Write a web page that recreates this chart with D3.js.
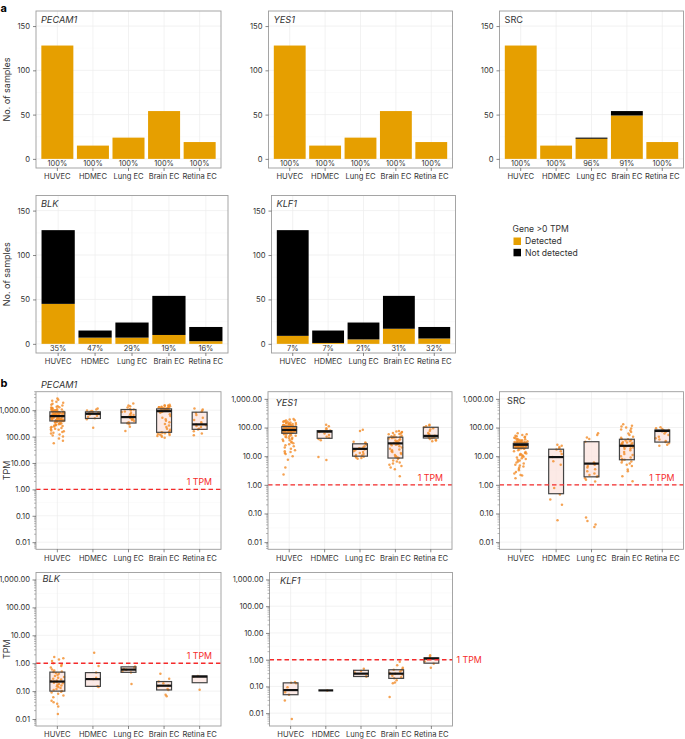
<!DOCTYPE html>
<html><head><meta charset="utf-8">
<script src="https://cdn.jsdelivr.net/npm/d3@7"></script>
<style>
body{margin:0;background:#fff}
text{font-family:Inter,"Noto Sans",sans-serif;fill:#333}
</style>
</head><body>
<svg id="c" width="685" height="739"></svg>
<script>
// ---------- DATA ----------
const cellTypes = ["HUVEC","HDMEC","Lung EC","Brain EC","Retina EC"];
const genes = ["PECAM1","YES1","SRC","BLK","KLF1"];
const sampleTotals = [128,15,24,54,19];
// samples with gene > 0 TPM (Detected)
const detectedPECAM1 = [128,15,24,54,19];
const detectedYES1   = [128,15,24,54,19];
const detectedSRC    = [128,15,23,49,19];
const detectedBLK    = [45,7,7,10,3];
const detectedKLF1   = [9,1,5,17,6];
const countTicks = [0,50,100,150];
const tpmTicks = [0.01,0.1,1,10,100,1000];
const thresholdTPM = 1;

// box stats [Q1, median, Q3] per cell type
const boxPECAM1 = [[390,596,866],[487,730,866],[326,547,1060],[145,917,1120],[188,290,841]];
const boxYES1   = [[63,82,108],[42,72,78],[10,18,27],[8.6,28,46],[43,51,102]];
const boxSRC    = [[19,25,28],[0.49,9.3,17.5],[1.9,5.5,32],[7.5,23,39],[31,76,82]];
const boxBLK    = [[0.10,0.22,0.48],[0.148,0.27,0.46],[0.47,0.59,0.74],[0.11,0.156,0.22],[0.20,0.33,0.35]];
const boxKLF1   = [[0.049,0.073,0.136],[0.071,0.071,0.071],[0.235,0.30,0.40],[0.20,0.30,0.42],[0.74,1.1,1.17]];

// TPM values per sample (detected samples), per cell type
const tpmPECAM1 = [
 [2750,2500,2300,2100,1900,1750,1600,1500,1400,1350,1300,1250,1200,1150,1100,1080,1050,1020,1000,990,980,960,950,940,930,920,910,900,890,880,875,870,
  860,850,840,830,820,810,800,790,780,770,760,750,740,730,720,710,700,690,680,670,660,650,645,640,635,630,625,620,615,610,605,600,
  590,580,570,560,550,545,540,530,520,510,500,495,490,485,480,470,460,455,450,445,440,435,430,425,420,415,410,405,400,398,395,392,
  385,370,360,350,340,330,320,310,300,290,280,270,260,250,240,230,220,210,200,190,180,170,160,150,140,130,120,110,100,85,70,56],
 [1150,1050,980,940,900,870,820,760,720,680,620,560,500,450,218],
 [1780,1500,1400,1250,1100,1050,980,900,850,780,700,650,600,560,520,480,450,420,390,350,320,290,236,163],
 [1600,1550,1500,1450,1400,1380,1350,1320,1300,1280,1250,1220,1200,1180,1150,1130,1120,1100,1080,1060,1040,1020,1000,980,960,940,920,900,870,
  800,700,600,520,450,400,350,300,260,230,200,180,160,150,145,140,135,130,125,120,115,110,105,98,91],
 [1160,1050,950,870,780,650,520,420,350,300,285,270,250,230,200,185,160,130,112]
];
const tpmYES1 = [
 [198,190,180,175,170,165,160,155,150,148,145,140,138,135,132,130,128,125,123,121,120,118,117,116,115,114,113,112,111,110,109,108,
  107,106,105,104,103,102,101,100,99,98,97,96,95,94,93,92,91,90,89,88,88,87,87,86,86,85,85,84,84,83,83,82,
  81,80,80,79,78,78,77,76,76,75,74,74,73,72,72,71,70,70,69,68,68,67,67,66,66,65,65,64,64,64,63,63,
  62,60,58,56,54,52,50,48,46,44,42,40,38,36,34,32,30,28,26,24,22,20,18,16,15,14,13,12,10,7.5,4,2.3],
 [124,110,95,85,78,74,70,62,55,48,44,40,36,9.4,7.4],
 [83,76,32,30,28,27,25,22,20,19,18,17,16,15,14,13,12,11,10.5,10,9.5,9,8.7,8.2],
 [76,72,70,68,65,62,60,58,55,52,50,48,47,46,45,43,41,39,37,35,33,31,30,29,28,28,27,26,25,24,22,20,18,17,16,15,14,13,12,11,
  10,9.5,9,8.6,8,7,6.5,6,5.5,5,4.5,4,3.5,2],
 [124,118,110,102,95,85,75,65,58,52,50,48,46,44,42,40,37,35,33]
];
const tpmSRC = [
 [63,58,55,52,50,48,46,44,42,40,39,38,37,36,35,34,33.5,33,32.5,32,31.5,31,30.5,30,29.8,29.5,29.2,29,28.8,28.5,28.2,28,
  27.9,27.8,27.7,27.6,27.5,27.4,27.3,27.2,27.1,27,26.9,26.8,26.7,26.6,26.5,26.4,26.3,26.2,26.1,26,25.9,25.8,25.7,25.6,25.5,25.4,25.3,25.2,25.15,25.1,25.05,25,
  24.8,24.5,24.2,24,23.7,23.4,23.1,22.8,22.5,22.2,22,21.8,21.6,21.4,21.2,21,20.8,20.6,20.4,20.2,20,19.9,19.8,19.7,19.6,19.5,19.4,19.3,19.2,19.1,19.05,19,
  18,17,16,15,14,13,12.5,12,11.5,11,10.5,10,9.5,9,8.5,8,7.5,7,6.5,6,5.5,5,4.7,4.4,4,3.6,3.2,2.8,2.5,2.2,2.1,1.7],
 [25,23,21,19,17,15,12,9.3,6.6,5,0.77,0.46,0.31,0.2,0.058],
 [63,55,45,40,32,6,5.5,5,4.5,4,3.5,3,2.5,2.2,2,1.9,1.7,1.5,1.3,0.072,0.055,0.041,0.034],
 [129,115,108,100,92,85,78,70,62,55,48,44,40,39,37,35,33,31,30,29,28,27,26,25,24,23,22,21,20,19,18,16,14,12,11,10,9,8,
  7.5,7,6.5,6,5.5,5,4.5,3.4,3,2,1.33],
 [102,95,88,82,80,78,76,74,70,62,55,48,42,38,34,31,28,25,23]
];
const tpmBLK = [
 [1.66,1.5,1.35,1.2,1.0,0.9,0.8,0.7,0.6,0.55,0.5,0.48,0.45,0.42,0.38,0.35,0.32,0.3,0.28,0.26,0.24,0.23,0.22,
  0.21,0.2,0.19,0.18,0.17,0.16,0.15,0.14,0.13,0.12,0.11,0.1,0.095,0.09,0.08,0.07,0.06,0.045,0.04,0.035,0.028,0.015],
 [2.37,0.79,0.46,0.3,0.27,0.15,0.14],
 [0.76,0.7,0.62,0.58,0.5,0.46,0.18],
 [0.42,0.28,0.22,0.19,0.16,0.15,0.12,0.11,0.074,0.065],
 [0.35,0.33,0.112]
];
const tpmKLF1 = [
 [0.145,0.136,0.13,0.093,0.073,0.06,0.049,0.03,0.006],
 [0.071],
 [0.46,0.38,0.33,0.24,0.235],
 [0.83,0.62,0.5,0.45,0.42,0.4,0.36,0.32,0.3,0.28,0.25,0.22,0.2,0.17,0.141,0.13,0.04],
 [1.48,1.3,1.05,0.85,0.7,0.5]
];

// ---------- STYLE ----------
const ORANGE = "#E69F00", BLACK = "#000000", PT = "#F28C28";
const FRAME = "#9c9c9c", GRID = "#ececec", GRIDMINOR = "#f6f6f6";
const svg = d3.select("#c");

function bandScale(x0, x1){
  return d3.scaleBand().domain(cellTypes).range([x0, x1]).paddingInner(0.1).paddingOuter(0.15);
}
function jit(i, j){ const s = Math.sin((i+1)*12.9898 + (j+1)*78.233)*43758.5453; return (s - Math.floor(s))*2 - 1; }

function styleAxis(g){
  g.select(".domain").remove();
  g.selectAll(".tick line").attr("stroke","#555").attr("stroke-width",0.7);
  g.selectAll(".tick text").attr("font-size",7.6).attr("fill","#333").style("font-family","Inter, sans-serif");
}

// ---------- PANEL A ----------
function barPanel(gene, detected, fr, italic, yTitle){
  const [x0,x1,y0,y1] = fr;
  const x = bandScale(x0,x1);
  const y = d3.scaleLinear().domain([-10.3, 167]).range([y1, y0]);
  const g = svg.append("g");
  [25,75,125].forEach(v=>g.append("line").attr("x1",x0).attr("x2",x1).attr("y1",y(v)).attr("y2",y(v)).attr("stroke",GRIDMINOR).attr("stroke-width",0.5));
  countTicks.forEach(v=>g.append("line").attr("x1",x0).attr("x2",x1).attr("y1",y(v)).attr("y2",y(v)).attr("stroke",GRID).attr("stroke-width",0.7));
  cellTypes.forEach(c=>g.append("line").attr("x1",x(c)+x.bandwidth()/2).attr("x2",x(c)+x.bandwidth()/2).attr("y1",y0).attr("y2",y1).attr("stroke",GRID).attr("stroke-width",0.7));
  const rows = cellTypes.map((c,i)=>({c, tot: sampleTotals[i], det: detected[i]}));
  g.selectAll(".dt").data(rows).join("rect")
    .attr("x",d=>x(d.c)).attr("width",x.bandwidth())
    .attr("y",d=>y(d.det)).attr("height",d=>y(0)-y(d.det))
    .attr("fill",ORANGE);
  g.selectAll(".nd").data(rows.filter(d=>d.tot>d.det)).join("rect")
    .attr("x",d=>x(d.c)).attr("width",x.bandwidth())
    .attr("y",d=>y(d.tot)).attr("height",d=>Math.max(1.1,y(d.det)-y(d.tot)))
    .attr("fill",BLACK);
  g.selectAll(".pc").data(rows).join("text")
    .attr("x",d=>x(d.c)+x.bandwidth()/2).attr("y",y(-5)).attr("dy","0.35em")
    .attr("text-anchor","middle").attr("font-size",7.4)
    .text(d=>Math.round(d.det/d.tot*100)+"%");
  g.append("rect").attr("x",x0).attr("y",y0).attr("width",x1-x0).attr("height",y1-y0).attr("fill","none").attr("stroke",FRAME).attr("stroke-width",0.9);
  const ya = g.append("g").attr("transform",`translate(${x0},0)`).call(d3.axisLeft(y).tickValues(countTicks).tickSize(3).tickPadding(3));
  styleAxis(ya);
  const xa = g.append("g").attr("transform",`translate(0,${y1})`).call(d3.axisBottom(x).tickSize(3).tickPadding(3));
  styleAxis(xa);
  g.append("text").attr("x",x0+5).attr("y",y0+8.5).attr("dy","0.35em").attr("font-size",9.2)
    .attr("font-style",italic?"italic":"normal").text(gene);
  if(yTitle){
    g.append("text").attr("transform",`translate(7,${(y0+y1)/2}) rotate(-90)`).attr("text-anchor","middle")
      .attr("dy","0.35em").attr("font-size",9).text("No. of samples");
  }
}

// ---------- PANEL B ----------
function boxPanel(gene, pts, boxes, fr, dom, labelPos, italic, yTitle, tpmOutside){
  const [x0,x1,y0,y1] = fr;
  const x = bandScale(x0,x1);
  const step = x.step();
  const y = d3.scaleLog().domain([Math.pow(10,dom[0]), Math.pow(10,dom[1])]).range([y1, y0]);
  const g = svg.append("g");
  [-1.5,-0.5,0.5,1.5,2.5].forEach(e=>{ if(e>dom[0]&&e<dom[1]) g.append("line").attr("x1",x0).attr("x2",x1).attr("y1",y(Math.pow(10,e))).attr("y2",y(Math.pow(10,e))).attr("stroke",GRIDMINOR).attr("stroke-width",0.5);});
  tpmTicks.forEach(v=>g.append("line").attr("x1",x0).attr("x2",x1).attr("y1",y(v)).attr("y2",y(v)).attr("stroke",GRID).attr("stroke-width",0.7));
  cellTypes.forEach(c=>g.append("line").attr("x1",x(c)+x.bandwidth()/2).attr("x2",x(c)+x.bandwidth()/2).attr("y1",y0).attr("y2",y1).attr("stroke",GRID).attr("stroke-width",0.7));
  const bw = step*0.42;
  const bx = cellTypes.map((c,i)=>({c, cx: x(c)+x.bandwidth()/2, q1: boxes[i][0], md: boxes[i][1], q3: boxes[i][2]}));
  g.selectAll(".bf").data(bx).join("rect")
    .attr("x",d=>d.cx-bw/2).attr("width",bw).attr("y",d=>y(d.q3)).attr("height",d=>Math.max(0.5,y(d.q1)-y(d.q3)))
    .attr("fill","#fbe3de").attr("fill-opacity",0.75);
  const P = [];
  pts.forEach((arr,i)=>arr.forEach((v,j)=>P.push({cx: bx[i].cx + jit(i*7+gene.length, j)*step*0.19, v})));
  g.selectAll(".pt").data(P).join("circle")
    .attr("cx",d=>d.cx).attr("cy",d=>y(d.v)).attr("r",1.25)
    .attr("fill",PT).attr("fill-opacity",0.8);
  g.selectAll(".bo").data(bx).join("rect")
    .attr("x",d=>d.cx-bw/2).attr("width",bw).attr("y",d=>y(d.q3)).attr("height",d=>Math.max(0,y(d.q1)-y(d.q3)))
    .attr("fill","none").attr("stroke","#444").attr("stroke-width",1.2);
  g.selectAll(".md").data(bx).join("line")
    .attr("x1",d=>d.cx-bw/2).attr("x2",d=>d.cx+bw/2).attr("y1",d=>y(d.md)).attr("y2",d=>y(d.md))
    .attr("stroke","#111").attr("stroke-width",2.2);
  g.append("line").attr("x1",x0).attr("x2",x1).attr("y1",y(thresholdTPM)).attr("y2",y(thresholdTPM))
    .attr("stroke","#f52a2a").attr("stroke-width",1.4).attr("stroke-dasharray","4.5,3");
  if(tpmOutside){
    g.append("text").attr("x",x1+4).attr("y",y(thresholdTPM)).attr("dy","0.35em").attr("font-size",8.8)
      .style("fill","#f52a2a").text("1 TPM");
  } else {
    g.append("text").attr("x",x1-9).attr("y",y(thresholdTPM)-7).attr("dy","0.35em").attr("text-anchor","end").attr("font-size",8.8)
      .style("fill","#f52a2a").text("1 TPM");
  }
  g.append("rect").attr("x",x0).attr("y",y0).attr("width",x1-x0).attr("height",y1-y0).attr("fill","none").attr("stroke",FRAME).attr("stroke-width",0.9);
  const ya = g.append("g").attr("transform",`translate(${x0},0)`).call(d3.axisLeft(y).tickValues(tpmTicks).tickFormat(d3.format(",.2f")).tickSize(3.5).tickPadding(2.5));
  styleAxis(ya);
  const minor = [];
  for(let e=-3;e<=3;e++) for(let m=2;m<=9;m++){ const v=m*Math.pow(10,e); if(Math.log10(v)>dom[0]&&Math.log10(v)<dom[1]) minor.push(v); }
  g.selectAll(".mt").data(minor).join("line").attr("x1",x0-2).attr("x2",x0).attr("y1",d=>y(d)).attr("y2",d=>y(d)).attr("stroke","#777").attr("stroke-width",0.5);
  const xa = g.append("g").attr("transform",`translate(0,${y1})`).call(d3.axisBottom(x).tickSize(3).tickPadding(3));
  styleAxis(xa);
  g.append("text").attr("x",labelPos[0]).attr("y",labelPos[1]).attr("dy","0.35em").attr("font-size",9.2)
    .attr("font-style",italic?"italic":"normal").text(gene);
  if(yTitle){
    g.append("text").attr("transform",`translate(7,${(y0+y1)/2}) rotate(-90)`).attr("text-anchor","middle")
      .attr("dy","0.35em").attr("font-size",9).text("TPM");
  }
}

svg.append("text").attr("x",0.5).attr("y",8).attr("dy","0.35em").attr("font-size",11).attr("font-weight","bold").style("fill","#000").text("a");
svg.append("text").attr("x",0.5).attr("y",383).attr("dy","0.35em").attr("font-size",11).attr("font-weight","bold").style("fill","#000").text("b");

barPanel(genes[0], detectedPECAM1, [36,221,11,168], true, true);
barPanel(genes[1], detectedYES1,   [268.5,452.5,11,168], true, false);
barPanel(genes[2], detectedSRC,    [499.5,683.5,11,168], false, false);
barPanel(genes[3], detectedBLK,    [36,228,195.5,353], true, true);
barPanel(genes[4], detectedKLF1,   [271.5,455.5,195.5,353], true, false);

const lg = svg.append("g");
lg.append("text").attr("x",512.5).attr("y",228.5).attr("dy","0.35em").attr("font-size",8.6).text("Gene >0 TPM");
[["Detected",ORANGE],["Not detected",BLACK]].forEach((d,i)=>{
  lg.append("rect").attr("x",513.5).attr("y",237.5+i*11.3).attr("width",7.5).attr("height",7.5).attr("fill",d[1]);
  lg.append("text").attr("x",525).attr("y",241.3+i*11.3).attr("dy","0.35em").attr("font-size",8.6).text(d[0]);
});

boxPanel(genes[0], tpmPECAM1, boxPECAM1, [36,221,391.7,549.3], [-2.27,3.70], [41,384.5], true, true, false);
boxPanel(genes[1], tpmYES1,   boxYES1,   [268,452,391.7,549.3], [-2.25,3.25], [275.5,402.5], true, false, false);
boxPanel(genes[2], tpmSRC,    boxSRC,    [499.5,683.5,391.7,549.3], [-2.25,3.25], [507,400.5], false, false, false);
boxPanel(genes[3], tpmBLK,    boxBLK,    [36,221,572.5,726], [-2.25,3.25], [42.5,579], true, true, false);
boxPanel(genes[4], tpmKLF1,   boxKLF1,   [269.5,452.5,572.5,726], [-2.48,3.26], [280,580.5], true, false, true);
</script>
</body></html>
